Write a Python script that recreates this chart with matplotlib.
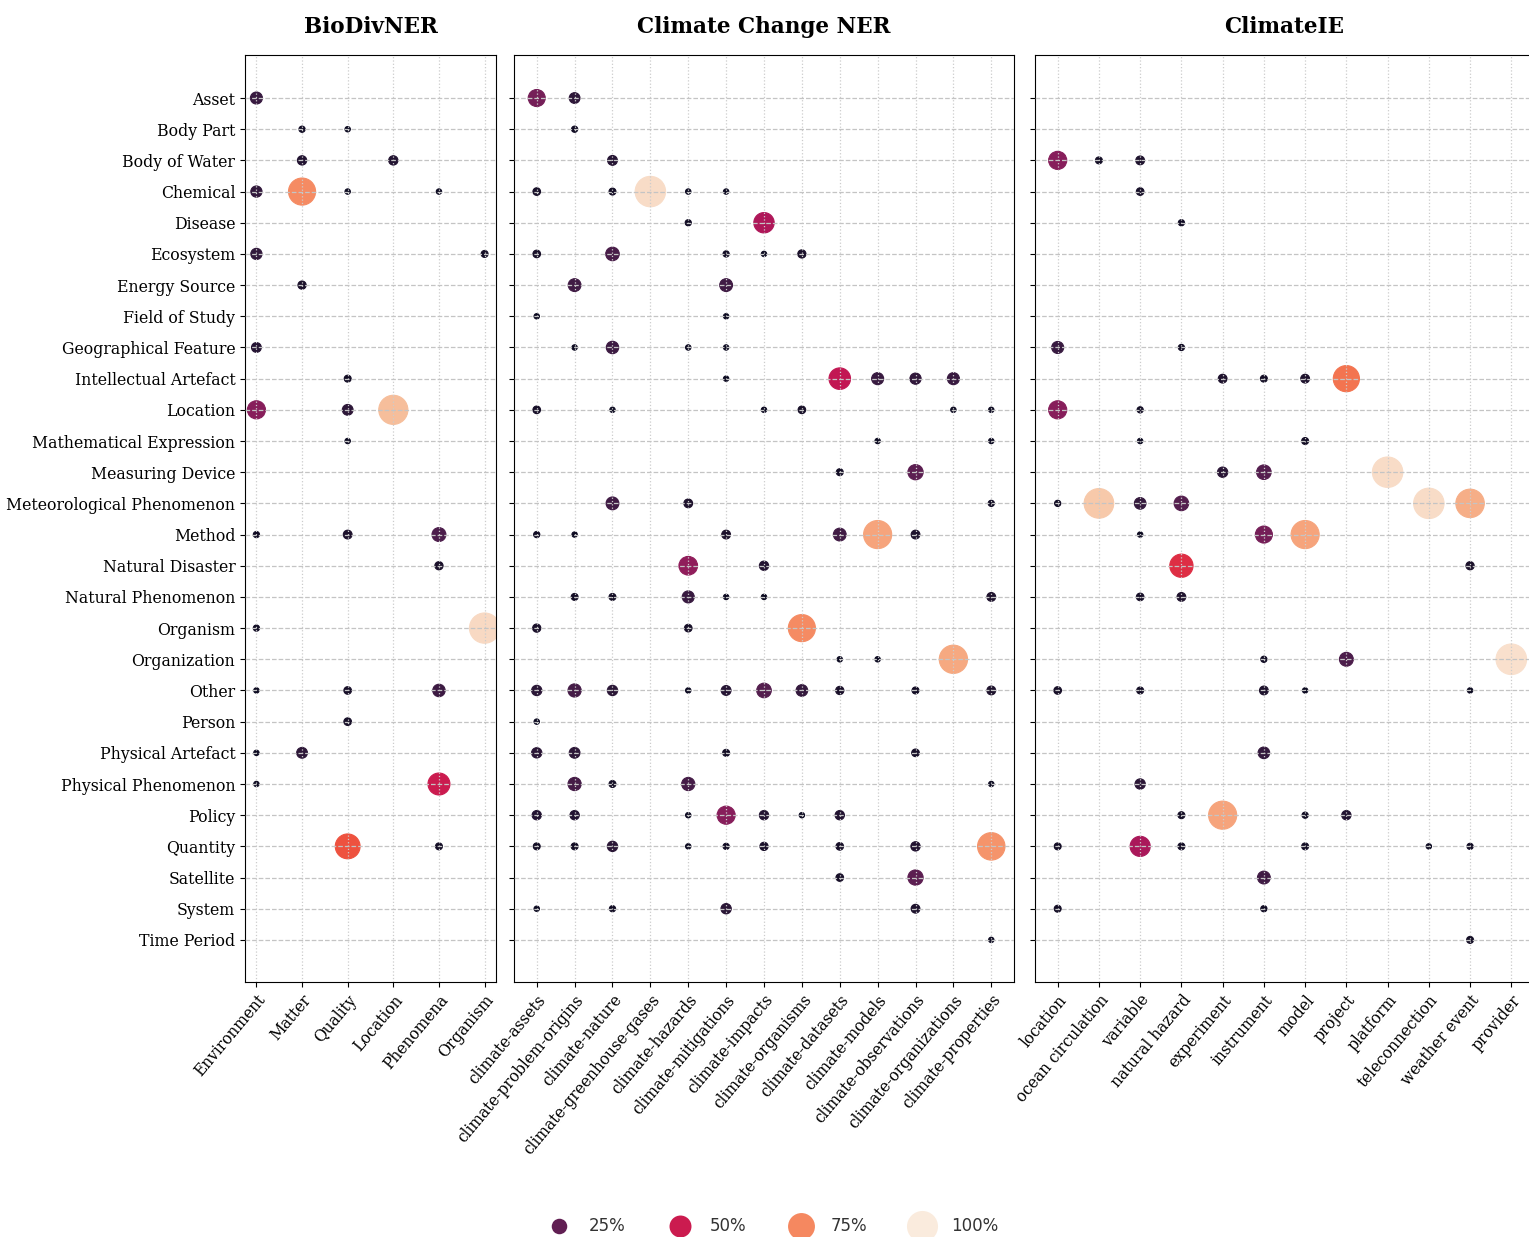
import matplotlib
matplotlib.use("Agg")
import matplotlib.pyplot as plt
from matplotlib.colors import Normalize
import seaborn as sns

# entity types of the unified schema (rows)
row_labels = [
    "Asset", "Body Part", "Body of Water", "Chemical", "Disease", "Ecosystem",
    "Energy Source", "Field of Study", "Geographical Feature", "Intellectual Artefact",
    "Location", "Mathematical Expression", "Measuring Device", "Meteorological Phenomenon",
    "Method", "Natural Disaster", "Natural Phenomenon", "Organism", "Organization",
    "Other", "Person", "Physical Artefact", "Physical Phenomenon", "Policy", "Quantity",
    "Satellite", "System", "Time Period",
]

# share (%) of each source label mapped to each entity type
biodiv_cols = ["Environment", "Matter", "Quality", "Location", "Phenomena", "Organism"]
biodiv_vals = {
    "Environment": {"Asset": 15, "Chemical": 13, "Ecosystem": 13, "Geographical Feature": 10,
                    "Location": 34, "Method": 4, "Organism": 4, "Other": 3,
                    "Physical Artefact": 3, "Physical Phenomenon": 3},
    "Matter": {"Body Part": 4, "Body of Water": 9, "Chemical": 76, "Energy Source": 7,
               "Physical Artefact": 12},
    "Quality": {"Body Part": 3, "Chemical": 3, "Intellectual Artefact": 5, "Location": 12,
                "Mathematical Expression": 3, "Method": 8, "Other": 6, "Person": 6,
                "Quantity": 64},
    "Location": {"Body of Water": 9, "Location": 88},
    "Phenomena": {"Chemical": 3, "Method": 20, "Natural Disaster": 7, "Other": 16,
                  "Physical Phenomenon": 50, "Quantity": 5},
    "Organism": {"Ecosystem": 5, "Organism": 95},
}

ccner_cols = [
    "climate-assets", "climate-problem-origins", "climate-nature", "climate-greenhouse-gases",
    "climate-hazards", "climate-mitigations", "climate-impacts", "climate-organisms",
    "climate-datasets", "climate-models", "climate-observations", "climate-organizations",
    "climate-properties",
]
ccner_vals = {
    "climate-assets": {"Asset": 30, "Chemical": 6, "Ecosystem": 6, "Field of Study": 3,
                       "Location": 6, "Method": 4, "Organism": 7, "Other": 11, "Person": 3,
                       "Physical Artefact": 11, "Policy": 9, "Quantity": 5, "System": 3},
    "climate-problem-origins": {"Asset": 12, "Body Part": 4, "Energy Source": 17,
                                "Geographical Feature": 3, "Method": 3,
                                "Natural Phenomenon": 5, "Other": 18, "Physical Artefact": 12,
                                "Physical Phenomenon": 18, "Policy": 9, "Quantity": 5},
    "climate-nature": {"Body of Water": 10, "Chemical": 5, "Ecosystem": 19,
                       "Geographical Feature": 16, "Location": 3,
                       "Meteorological Phenomenon": 17, "Natural Phenomenon": 5, "Other": 11,
                       "Physical Phenomenon": 5, "Quantity": 11, "System": 4},
    "climate-greenhouse-gases": {"Chemical": 96},
    "climate-hazards": {"Chemical": 3, "Disease": 4, "Geographical Feature": 3,
                        "Meteorological Phenomenon": 8, "Natural Disaster": 36,
                        "Natural Phenomenon": 15, "Organism": 6, "Other": 3,
                        "Physical Phenomenon": 18, "Policy": 3, "Quantity": 3},
    "climate-mitigations": {"Chemical": 3, "Ecosystem": 4, "Energy Source": 17,
                            "Field of Study": 3, "Geographical Feature": 3,
                            "Intellectual Artefact": 3, "Method": 8, "Natural Phenomenon": 3,
                            "Other": 10, "Physical Artefact": 5, "Policy": 34, "Quantity": 4,
                            "System": 11},
    "climate-impacts": {"Disease": 43, "Ecosystem": 3, "Location": 3, "Natural Disaster": 9,
                        "Natural Phenomenon": 3, "Other": 22, "Policy": 9, "Quantity": 7},
    "climate-organisms": {"Ecosystem": 7, "Location": 6, "Organism": 76, "Other": 14,
                          "Policy": 3},
    "climate-datasets": {"Intellectual Artefact": 48, "Measuring Device": 5, "Method": 17,
                         "Organization": 3, "Other": 7, "Policy": 9, "Quantity": 6,
                         "Satellite": 6},
    "climate-models": {"Intellectual Artefact": 15, "Mathematical Expression": 3,
                       "Method": 82, "Organization": 3},
    "climate-observations": {"Intellectual Artefact": 13, "Measuring Device": 24,
                             "Method": 8, "Other": 5, "Physical Artefact": 6,
                             "Quantity": 9, "Satellite": 24, "System": 8},
    "climate-organizations": {"Intellectual Artefact": 15, "Location": 3,
                              "Organization": 83},
    "climate-properties": {"Location": 3, "Mathematical Expression": 3,
                           "Meteorological Phenomenon": 4, "Natural Phenomenon": 8,
                           "Other": 8, "Physical Phenomenon": 3, "Quantity": 78,
                           "Time Period": 3},
}

climateie_cols = [
    "location", "ocean circulation", "variable", "natural hazard", "experiment",
    "instrument", "model", "project", "platform", "teleconnection", "weather event",
    "provider",
]
climateie_vals = {
    "location": {"Body of Water": 34, "Geographical Feature": 15, "Location": 34,
                 "Meteorological Phenomenon": 4, "Other": 6, "Quantity": 5, "System": 5},
    "ocean circulation": {"Body of Water": 5, "Meteorological Phenomenon": 91},
    "variable": {"Body of Water": 8, "Chemical": 6, "Location": 4,
                 "Mathematical Expression": 3, "Meteorological Phenomenon": 14, "Method": 3,
                 "Natural Phenomenon": 6, "Other": 5, "Physical Phenomenon": 11,
                 "Quantity": 42},
    "natural hazard": {"Disease": 4, "Geographical Feature": 4,
                       "Meteorological Phenomenon": 22, "Natural Disaster": 56,
                       "Natural Phenomenon": 8, "Policy": 5, "Quantity": 5},
    "experiment": {"Intellectual Artefact": 8, "Measuring Device": 11, "Policy": 82},
    "instrument": {"Intellectual Artefact": 5, "Measuring Device": 22, "Method": 30,
                   "Organization": 4, "Other": 8, "Physical Artefact": 14, "Satellite": 17,
                   "System": 4},
    "model": {"Intellectual Artefact": 8, "Mathematical Expression": 5, "Method": 82,
              "Other": 3, "Policy": 4, "Quantity": 5},
    "project": {"Intellectual Artefact": 71, "Organization": 20, "Policy": 9},
    "platform": {"Measuring Device": 96},
    "teleconnection": {"Meteorological Phenomenon": 96, "Quantity": 3},
    "weather event": {"Meteorological Phenomenon": 84, "Natural Disaster": 7, "Other": 3,
                      "Quantity": 4, "Time Period": 5},
    "provider": {"Organization": 97},
}

titles = ["BioDivNER", "Climate Change NER", "ClimateIE"]
legend_levels = [25, 50, 75, 100]

plt.rcParams['font.family'] = ['DejaVu Serif']

cmap = sns.color_palette("rocket", as_cmap=True)
norm = Normalize(0, 100)
size_scale = 5.0

fig = plt.figure(figsize=(15.29, 12.37), dpi=100)
W, H = 1529, 1237
boxes = [(245, 496), (514, 1014), (1035, 1534)]
top_px, bottom_px = 55, 982

panels = [(biodiv_cols, biodiv_vals), (ccner_cols, ccner_vals), (climateie_cols, climateie_vals)]
row_index = {r: i for i, r in enumerate(row_labels)}

for k, (cols, vals) in enumerate(panels):
    x0, x1 = boxes[k]
    ax = fig.add_axes([x0 / W, 1 - bottom_px / H, (x1 - x0) / W, (bottom_px - top_px) / H])
    xs, ys, vs = [], [], []
    for ci, c in enumerate(cols):
        for r, v in vals[c].items():
            xs.append(ci)
            ys.append(row_index[r])
            vs.append(v)
    ax.scatter(xs, ys, s=[v * size_scale for v in vs], c=vs, cmap=cmap, norm=norm,
               linewidths=0.8, edgecolors='face', zorder=1)
    n = len(cols) - 1
    ax.set_xticks(range(len(cols)))
    ax.set_xticklabels(cols, rotation=50, ha='right', rotation_mode='anchor', fontsize=11.2)
    ax.set_yticks(range(len(row_labels)))
    if k == 0:
        ax.set_yticklabels(row_labels, fontsize=11.3)
    else:
        ax.set_yticklabels([])
    ax.set_xlim(-0.05 * n, n + 0.05 * n)
    ax.set_ylim(27 + 1.35, -1.38)
    ax.set_axisbelow(False)
    ax.grid(axis='y', linestyle='--', color='#c4c4c4', linewidth=0.9)
    ax.grid(axis='x', linestyle=':', color='#cccccc', linewidth=0.9)
    ax.set_title(titles[k], fontsize=15.5, fontweight='bold', pad=16)

handles = [plt.scatter([], [], s=lv * size_scale, color=cmap(norm(lv)), linewidths=0)
           for lv in legend_levels]
leg = fig.legend(handles, [f"{lv}%" for lv in legend_levels], loc='center',
                 bbox_to_anchor=(0.504, 0.009), ncol=4, frameon=False, columnspacing=2.25,
                 prop={'family': 'DejaVu Sans', 'size': 12})
for t in leg.get_texts():
    t.set_color('#333333')

fig.savefig("out.png", dpi=100)
